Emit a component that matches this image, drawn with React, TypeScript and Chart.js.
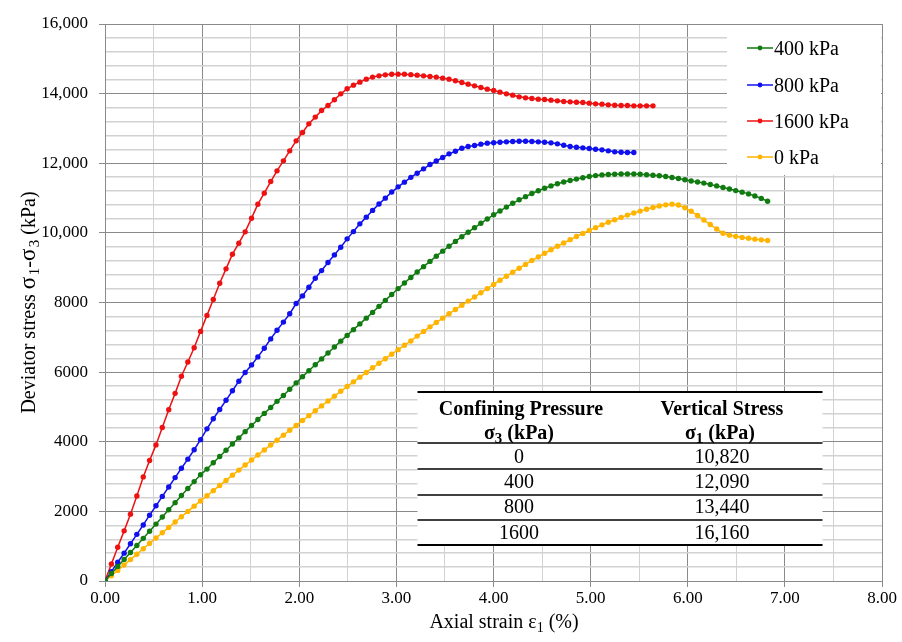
import React, { useEffect, useRef } from 'react';
import { Chart, registerables } from 'chart.js';

Chart.register(...registerables);

// ---------------- DATA ----------------
// Axial strain (%) at each reading
const strainPct = [
  0, 0.066, 0.131, 0.197, 0.262, 0.328, 0.394, 0.459, 0.525, 0.590,
  0.656, 0.722, 0.787, 0.853, 0.918, 0.984, 1.050, 1.115, 1.181, 1.246,
  1.312, 1.378, 1.443, 1.509, 1.574, 1.640, 1.706, 1.771, 1.837, 1.902,
  1.968, 2.034, 2.099, 2.165, 2.230, 2.296, 2.362, 2.427, 2.493, 2.558,
  2.624, 2.690, 2.755, 2.821, 2.886, 2.952, 3.018, 3.083, 3.149, 3.214,
  3.280, 3.346, 3.411, 3.477, 3.542, 3.608, 3.674, 3.739, 3.805, 3.870,
  3.936, 4.002, 4.067, 4.133, 4.198, 4.264, 4.330, 4.395, 4.461, 4.526,
  4.592, 4.658, 4.723, 4.789, 4.854, 4.920, 4.986, 5.051, 5.117, 5.182,
  5.248, 5.314, 5.379, 5.445, 5.510, 5.576, 5.642, 5.707, 5.773, 5.838,
  5.904, 5.970, 6.035, 6.101, 6.166, 6.232, 6.298, 6.363, 6.429, 6.494,
  6.560, 6.626, 6.691, 6.757, 6.822,
];

// Deviator stress (kPa) per confining pressure
const dev400 = [
  0, 215, 420, 620, 820, 1020, 1225, 1430, 1635, 1840,
  2045, 2250, 2455, 2655, 2855, 3050, 3215, 3395, 3575, 3755,
  3935, 4110, 4290, 4465, 4640, 4815, 4985, 5160, 5330, 5510,
  5690, 5870, 6040, 6210, 6380, 6550, 6720, 6890, 7055, 7220,
  7385, 7550, 7715, 7890, 8060, 8230, 8400, 8560, 8720, 8875,
  9030, 9180, 9330, 9475, 9615, 9755, 9890, 10020, 10150, 10275,
  10400, 10520, 10630, 10740, 10850, 10950, 11040, 11130, 11210, 11280,
  11350, 11410, 11460, 11505, 11545, 11585, 11620, 11645, 11665, 11675,
  11685, 11690, 11690, 11690, 11685, 11670, 11655, 11640, 11618, 11590,
  11560, 11525, 11490, 11460, 11430, 11390, 11350, 11305, 11260, 11215,
  11170, 11120, 11060, 10990, 10910,
];

const dev800 = [
  0, 270, 540, 800, 1070, 1340, 1610, 1890, 2160, 2430,
  2700, 2970, 3240, 3500, 3770, 4060, 4370, 4660, 4925, 5190,
  5465, 5740, 5990, 6207, 6437, 6687, 6954, 7203, 7437, 7678,
  7970, 8190, 8439, 8698, 8917, 9147, 9368, 9589, 9828, 10037,
  10259, 10451, 10646, 10829, 10997, 11172, 11322, 11457, 11595, 11714,
  11839, 11963, 12065, 12165, 12270, 12346, 12433, 12480, 12509, 12548,
  12577, 12590, 12605, 12615, 12624, 12634, 12634, 12624, 12615, 12605,
  12586, 12557, 12519, 12480, 12461, 12443, 12423, 12404, 12385, 12356,
  12328, 12318, 12308, 12308,
];

const dev1600 = [
  0, 490, 970, 1440, 1920, 2440, 2990, 3460, 3910, 4410,
  4920, 5390, 5880, 6290, 6700, 7170, 7630, 8085, 8554, 8966,
  9388, 9704, 10029, 10422, 10824, 11141, 11474, 11782, 12069, 12356,
  12644, 12882, 13132, 13325, 13514, 13658, 13822, 13994, 14138, 14243,
  14330, 14416, 14474, 14511, 14540, 14555, 14560, 14560, 14545, 14531,
  14511, 14492, 14474, 14445, 14416, 14368, 14320, 14272, 14224, 14176,
  14128, 14090, 14043, 13994, 13956, 13908, 13879, 13860, 13841, 13831,
  13812, 13793, 13773, 13764, 13754, 13745, 13726, 13707, 13697, 13678,
  13668, 13659, 13659, 13649, 13649, 13649, 13649,
];

const dev0 = [
  0, 150, 305, 460, 615, 770, 925, 1080, 1235, 1385,
  1540, 1695, 1845, 2000, 2150, 2300, 2450, 2595, 2745, 2890,
  3040, 3185, 3330, 3475, 3620, 3765, 3905, 4045, 4190, 4330,
  4470, 4610, 4750, 4890, 5030, 5170, 5310, 5450, 5585, 5720,
  5855, 5990, 6125, 6255, 6385, 6515, 6645, 6770, 6895, 7035,
  7170, 7300, 7425, 7550, 7675, 7800, 7920, 8040, 8160, 8280,
  8400, 8520, 8640, 8755, 8870, 8985, 9095, 9205, 9310, 9415,
  9515, 9615, 9710, 9805, 9895, 9985, 10070, 10150, 10230, 10305,
  10375, 10445, 10510, 10570, 10625, 10680, 10730, 10770, 10805, 10825,
  10800, 10720, 10620, 10500, 10370, 10240, 10110, 9990, 9935, 9900,
  9870, 9845, 9820, 9800, 9780,
];

const seriesLabels = ['400 kPa', '800 kPa', '1600 kPa', '0 kPa'];

const xTickLabels = ['0.00', '1.00', '2.00', '3.00', '4.00', '5.00', '6.00', '7.00', '8.00'];
const yTickLabels = ['0', '2000', '4000', '6000', '8000', '10,000', '12,000', '14,000', '16,000'];

const tableHeadLeft = ['Confining Pressure', 'σ', '3', ' (kPa)'];
const tableHeadRight = ['Vertical Stress', 'σ', '1', ' (kPa)'];
const tableConfining = ['0', '400', '800', '1600'];
const tableVertical = ['10,820', '12,090', '13,440', '16,160'];

const xTitle = [{ t: 'Axial strain ε' }, { t: '1', sub: true }, { t: ' (%)' }];
const yTitle = [
  { t: 'Deviator stress ' }, { t: 'σ', big: true }, { t: '1', sub: true }, { t: '-' }, { t: 'σ', big: true }, { t: '3', sub: true }, { t: ' (kPa)' },
];

// ---------------- STYLE ----------------
const COLORS = ['#117a11', '#1010ee', '#ee1111', '#ffb400'];
const SERIF = "'Liberation Serif', 'Times New Roman', serif";
const MAJOR = '#8a8a8a';
const MINOR = '#d2d2d2';

type Seg = { t: string; sub?: boolean; big?: boolean };

function drawRich(ctx: CanvasRenderingContext2D, segs: Seg[], cx: number, baseY: number, size: number, weight = 'normal', subScale = 0.68) {
  const subSize = Math.round(size * subScale);
  const fontSize = (s: Seg) => (s.sub ? subSize : s.big ? Math.round(size * 1.15) : size);
  const widths = segs.map((s) => {
    ctx.font = `${weight} ${fontSize(s)}px ${SERIF}`;
    return ctx.measureText(s.t).width + (s.big ? 1.5 : 0);
  });
  const total = widths.reduce((a, b) => a + b, 0);
  let x = cx - total / 2;
  ctx.textAlign = 'left';
  ctx.textBaseline = 'alphabetic';
  segs.forEach((s, i) => {
    ctx.font = `${weight} ${fontSize(s)}px ${SERIF}`;
    ctx.fillText(s.t, x, baseY + (s.sub ? size * 0.22 : 0));
    x += widths[i];
  });
}

const overlayPlugin = {
  id: 'overlayPlugin',
  beforeDatasetsDraw(chart: any) {
    const { ctx, chartArea: ca } = chart;
    ctx.save();

    // ---- legend box (top-right, inside plot) ----
    const lx = ca.right - 155;
    const ly = ca.top + 1;
    ctx.fillStyle = '#ffffff';
    ctx.fillRect(lx, ly, 154, 150);
    const rowY = [24, 61, 97, 133];
    seriesLabels.forEach((lab, k) => {
      const y = ca.top + rowY[k];
      ctx.strokeStyle = COLORS[k];
      ctx.lineWidth = 1.5;
      ctx.beginPath();
      ctx.moveTo(lx + 20, y);
      ctx.lineTo(lx + 46, y);
      ctx.stroke();
      ctx.fillStyle = COLORS[k];
      ctx.beginPath();
      ctx.arc(lx + 33, y, 2.4, 0, Math.PI * 2);
      ctx.fill();
      ctx.fillStyle = '#000';
      ctx.font = `20px ${SERIF}`;
      ctx.textAlign = 'left';
      ctx.textBaseline = 'alphabetic';
      ctx.fillText(lab, lx + 47, y + 7);
    });

    // ---- table ----
    const tl = ca.left + 312.5;
    const tr = ca.left + 717.5;
    const tt = ca.bottom - 189;
    const tb = ca.bottom - 36;
    ctx.fillStyle = '#ffffff';
    ctx.fillRect(tl, tt - 1, tr - tl, tb - tt + 2);
    ctx.strokeStyle = '#000';
    const hline = (y: number, w: number) => {
      ctx.lineWidth = w;
      ctx.beginPath();
      ctx.moveTo(tl, y);
      ctx.lineTo(tr, y);
      ctx.stroke();
    };
    hline(tt, 2);
    hline(ca.bottom - 138, 1.3);
    hline(ca.bottom - 112, 1.3);
    hline(ca.bottom - 86, 1.3);
    hline(ca.bottom - 61, 1.3);
    hline(tb, 2);

    const cL = ca.left + 414;
    const cR = ca.left + 617;
    ctx.fillStyle = '#000';
    drawRich(ctx, [{ t: tableHeadLeft[0] }], cL + 2, ca.bottom - 166, 20, 'bold');
    drawRich(ctx, [{ t: tableHeadRight[0] }], cR, ca.bottom - 166, 20, 'bold');
    drawRich(ctx, [{ t: tableHeadLeft[1] }, { t: tableHeadLeft[2], sub: true }, { t: tableHeadLeft[3] }], cL, ca.bottom - 142, 20, 'bold', 0.75);
    drawRich(ctx, [{ t: tableHeadRight[1] }, { t: tableHeadRight[2], sub: true }, { t: tableHeadRight[3] }], cR - 2, ca.bottom - 142, 20, 'bold', 0.75);
    const rowBase = [118, 93, 68, 42];
    tableConfining.forEach((v, r) => {
      drawRich(ctx, [{ t: v }], cL, ca.bottom - rowBase[r], 20);
      drawRich(ctx, [{ t: tableVertical[r] }], cR, ca.bottom - rowBase[r], 20);
    });
    ctx.restore();
  },
  afterDraw(chart: any) {
    const { ctx, chartArea: ca } = chart;
    ctx.save();
    ctx.fillStyle = '#000';
    drawRich(ctx, xTitle as Seg[], ca.left + 399, ca.bottom + 47, 20);
    ctx.translate(28, (ca.top + ca.bottom) / 2);
    ctx.rotate(-Math.PI / 2);
    drawRich(ctx, yTitle as Seg[], 0, 7, 20, 'normal', 0.75);
    ctx.restore();
  },
};

export default function App() {
  const ref = useRef<HTMLCanvasElement>(null);

  useEffect(() => {
    if (!ref.current) return;
    const series = [dev400, dev800, dev1600, dev0];
    const datasets = series.map((vals, k) => ({
      label: seriesLabels[k],
      data: vals.map((v, i) => ({ x: strainPct[i], y: v })),
      borderColor: COLORS[k],
      backgroundColor: COLORS[k],
      borderWidth: 1.5,
      pointRadius: 2.7,
      pointHoverRadius: 2.7,
      pointBorderWidth: 0,
      tension: 0,
      fill: false,
    }));

    const isMajorX = (v: number) => Math.abs(v - Math.round(v)) < 1e-6;
    const isMajorY = (v: number) => Math.abs(v % 2000) < 1e-6;

    const chart = new Chart(ref.current, {
      type: 'line',
      data: { datasets },
      plugins: [overlayPlugin],
      options: {
        animation: false,
        responsive: true,
        maintainAspectRatio: false,
        devicePixelRatio: 1,
        layout: { padding: { top: 24, right: 20, left: 0, bottom: 0 } },
        plugins: { legend: { display: false }, tooltip: { enabled: false }, title: { display: false } },
        scales: {
          x: {
            type: 'linear',
            min: 0,
            max: 8,
            afterFit: (s: any) => { s.height = 61; },
            border: { display: true, color: MAJOR, width: 1 },
            grid: {
              color: (c: any) => (c.tick && isMajorX(c.tick.value) ? MAJOR : MINOR),
              tickColor: (c: any) => (c.tick && isMajorX(c.tick.value) ? MAJOR : 'rgba(0,0,0,0)'),
              tickLength: 6,
              lineWidth: 1,
            },
            ticks: {
              stepSize: 0.5,
              autoSkip: false,
              maxRotation: 0,
              maxTicksLimit: 100,
              padding: 1,
              color: '#000',
              font: { family: SERIF, size: 17 },
              callback: (v: any) => (isMajorX(Number(v)) ? xTickLabels[Math.round(Number(v))] : ''),
            },
          },
          y: {
            type: 'linear',
            min: 0,
            max: 16000,
            afterFit: (s: any) => { s.width = 105; },
            border: { display: true, color: MAJOR, width: 1 },
            grid: {
              color: (c: any) => (c.tick && isMajorY(c.tick.value) ? MAJOR : MINOR),
              tickColor: (c: any) => (c.tick && isMajorY(c.tick.value) ? MAJOR : 'rgba(0,0,0,0)'),
              tickLength: 6,
              lineWidth: (c: any) => (c.tick && isMajorY(c.tick.value) ? 1 : 1.4),
            },
            ticks: {
              stepSize: 400,
              autoSkip: false,
              maxTicksLimit: 100,
              padding: 11,
              color: '#000',
              font: { family: SERIF, size: 17 },
              callback: (v: any) => (isMajorY(Number(v)) ? yTickLabels[Math.round(Number(v) / 2000)] : ''),
            },
          },
        },
      },
    } as any);

    return () => chart.destroy();
  }, []);

  return (
    <div style={{ position: 'fixed', left: 0, top: 0, width: 902, height: 642, background: '#ffffff' }}>
      <canvas ref={ref} />
    </div>
  );
}
